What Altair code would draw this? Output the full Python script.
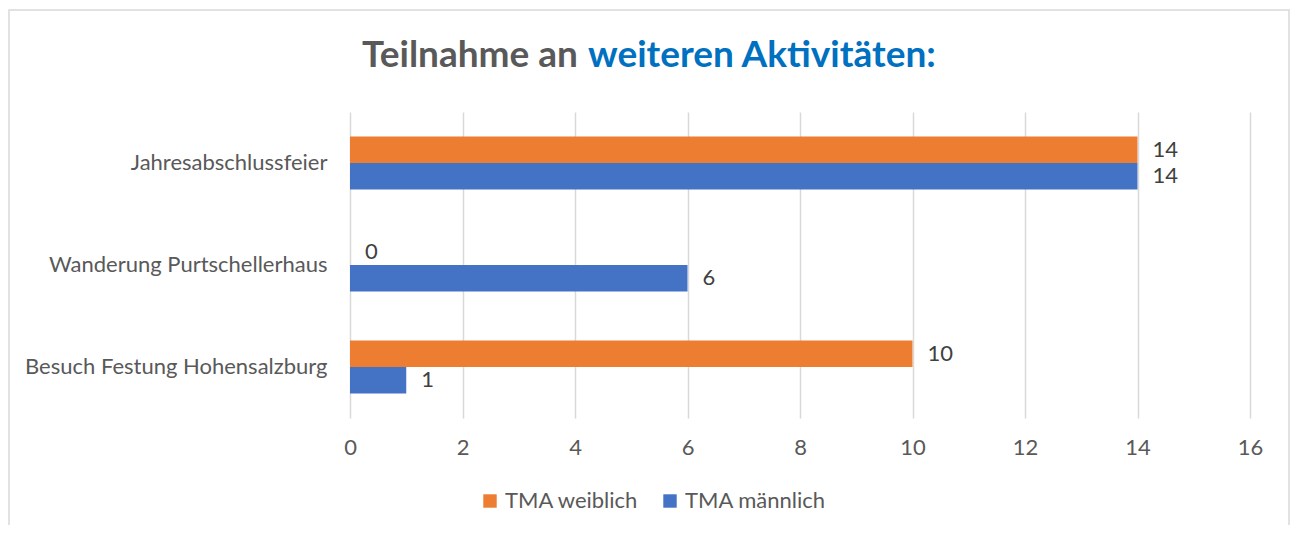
import altair as alt
import pandas as pd

categories = ["Jahresabschlussfeier", "Wanderung Purtschellerhaus", "Besuch Festung Hohensalzburg"]
series = ["TMA weiblich", "TMA männlich"]
weiblich = [14, 0, 10]
maennlich = [14, 6, 1]
x_ticks = [0, 2, 4, 6, 8, 10, 12, 14, 16]
title_part1 = "Teilnahme an"
title_part2 = "weiteren Aktivitäten:"

colors = ["#ED7D31", "#4472C4"]
FONT = "Lato"
FS = 22
W, H = 900, 306

rows = []
for c, w, m in zip(categories, weiblich, maennlich):
    rows.append({"Kategorie": c, "Serie": series[0], "Wert": w})
    rows.append({"Kategorie": c, "Serie": series[1], "Wert": m})
df = pd.DataFrame(rows)

y_enc = alt.Y("Kategorie:N", sort=categories,
              scale=alt.Scale(paddingInner=0.48, paddingOuter=0.24),
              axis=alt.Axis(title=None, ticks=False, domain=False, labelPadding=23,
                            labelFontSize=FS, labelColor="#595959", labelFont=FONT,
                            labelLimit=400))
yoff = alt.YOffset("Serie:N", sort=series, scale=alt.Scale(paddingInner=0, paddingOuter=0))
x_enc = alt.X("Wert:Q", scale=alt.Scale(domain=[0, 16], nice=False),
              axis=alt.Axis(title=None, values=x_ticks, ticks=False, domain=False,
                            grid=True, gridColor="#d9d9d9", gridWidth=1.5,
                            labelFlush=False, labelOverlap=False,
                            labelPadding=19, labelFontSize=FS, labelColor="#595959",
                            labelFont=FONT, format="d"))

bars = alt.Chart(df).mark_bar().encode(
    x=x_enc, y=y_enc, yOffset=yoff,
    color=alt.Color("Serie:N", sort=series,
                    scale=alt.Scale(domain=series, range=colors),
                    legend=alt.Legend(title=None, orient="none", direction="horizontal",
                                      legendX=129, legendY=378, symbolType="square",
                                      symbolSize=180, symbolStrokeWidth=0,
                                      labelFontSize=FS, labelColor="#595959",
                                      labelFont=FONT, columnPadding=20, labelOffset=4)),
)

labels = alt.Chart(df).mark_text(align="left", baseline="middle", dx=15,
                                 fontSize=FS, color="#404040", font=FONT).encode(
    x="Wert:Q", y=alt.Y("Kategorie:N", sort=categories), yOffset=yoff,
    text="Wert:Q",
)

t1 = alt.Chart(pd.DataFrame({"t": [title_part1]})).mark_text(
    align="right", baseline="alphabetic", fontSize=37, fontWeight="bold",
    color="#595959", font=FONT).encode(
    x=alt.value(228), y=alt.value(-45), text="t:N")
t2 = alt.Chart(pd.DataFrame({"t": [title_part2]})).mark_text(
    align="left", baseline="alphabetic", fontSize=37, fontWeight="bold",
    color="#0070C0", font=FONT).encode(
    x=alt.value(238), y=alt.value(-45), text="t:N")

frame = alt.Chart(pd.DataFrame({"a": [0]})).mark_rect(
    fill=None, stroke="#d9d9d9", strokeWidth=1.5).encode(
    x=alt.value(-341), x2=alt.value(939), y=alt.value(-102), y2=alt.value(440))

chart = alt.layer(frame, bars, labels, t1, t2).properties(
    width=W, height=H,
    autosize=alt.AutoSizeParams(type="none"),
    padding={"left": 342, "top": 104, "right": 40, "bottom": 107},
).configure(font=FONT, view=alt.ViewConfig(stroke=None))

chart.save("out.html", embed_options={"renderer": "svg", "actions": False})
